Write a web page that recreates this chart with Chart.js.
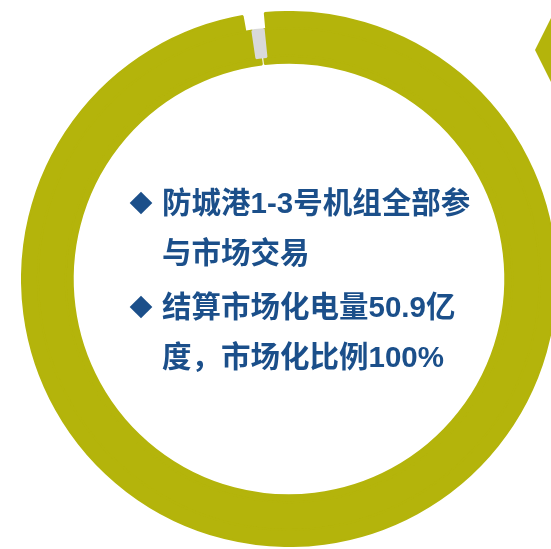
<!DOCTYPE html>
<html>
<head>
<meta charset="utf-8">
<script src="https://cdn.jsdelivr.net/npm/chart.js@4"></script>
<style>
  html, body { margin: 0; padding: 0; background: #ffffff; overflow: hidden; }
  body { width: 551px; height: 549px; position: relative; }
  #ring { position: absolute; left: 21px; top: 11px; }
  #arrow {
    position: absolute; left: 535px; top: 18px; width: 16px; height: 64px;
    background: #b4b40b; clip-path: polygon(0 50%, 100% 0, 100% 100%);
  }
  #notes {
    position: absolute; left: 162px; top: 178px;
    font-family: "Liberation Sans", Arial, "Noto Sans CJK SC", sans-serif;
    font-weight: bold; font-size: 29.5px; line-height: 50px; color: #1b4f8a;
    white-space: nowrap;
  }
  .item { position: relative; margin-bottom: 4px; }
  .item::before {
    content: ""; position: absolute; left: -29px; top: 17px;
    width: 16px; height: 16px; background: #1b4f8a; transform: rotate(45deg);
  }
</style>
</head>
<body>
<canvas id="ring" width="536" height="536"></canvas>
<div id="arrow"></div>
<div id="notes"></div>
<script>
// Slice labels and values (degrees of the ring)
const labels = ["市场化电量", "间隔"];
const outerValues = [355.2, 4.8];
const middleValues = [357.4, 2.6];
const innerValues = [359.2, 0.8];

// Text lines
const notes = [
  ["防城港1-3号机组全部参", "与市场交易"],
  ["结算市场化电量50.9亿", "度，市场化比例100%"],
];

const olive = "#b4b40b";
const clear = "rgba(0,0,0,0)";

// Write the bullet list
const notesDiv = document.querySelector("#notes");
notes.forEach((lines) => {
  const item = document.createElement("div");
  item.className = "item";
  item.innerHTML = lines.join("<br>");
  notesDiv.appendChild(item);
});

const ringChart = document.getElementById("ring").getContext("2d");

new Chart(ringChart, {
  type: "doughnut",
  data: {
    labels: labels,
    datasets: [
      {
        data: outerValues,
        weight: 16,
        rotation: -5.2,
        backgroundColor: [olive, clear],
        borderColor: [olive, clear],
      },
      {
        data: middleValues,
        weight: 28,
        rotation: -5.8,
        backgroundColor: [olive, "#d9d9d9"],
        borderColor: [olive, "#d9d9d9"],
      },
      {
        data: innerValues,
        weight: 7,
        rotation: -6.4,
        backgroundColor: [olive, clear],
        borderColor: [olive, clear],
      },
    ],
  },
  options: {
    responsive: false,
    animation: false,
    cutout: "81%",
    borderWidth: 2,
    layout: { padding: 0 },
    plugins: {
      legend: { display: false },
      tooltip: { enabled: false },
    },
  },
});
</script>
</body>
</html>
